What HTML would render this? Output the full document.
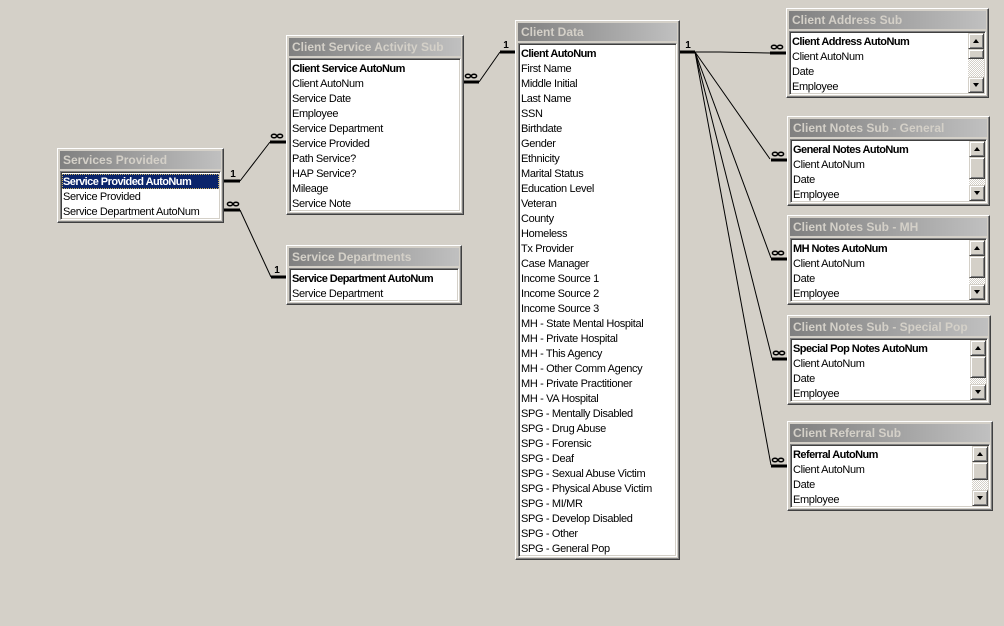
<!DOCTYPE html>
<html><head><meta charset="utf-8"><style>
*{margin:0;padding:0;box-sizing:border-box}
body{width:1004px;height:626px;background:#d4d0c8;position:relative;overflow:hidden;font-family:"Liberation Sans",Arial,sans-serif}
.w{position:absolute;background:#d4d0c8;border:1px solid;border-color:#fff #404040 #404040 #fff;box-shadow:inset -1px -1px #808080,inset 1px 1px #d4d0c8}
.t{position:absolute;left:2px;top:2px;right:2px;height:18px;background:linear-gradient(to right,#808080,#c0c0c0);color:#d4d0c8;font-weight:bold;font-size:12px;line-height:18px;padding-left:3px;white-space:nowrap;overflow:hidden}
.l{position:absolute;left:2px;right:2px;top:22px;bottom:2px;background:#fff;border:1px solid;border-color:#808080 #fff #fff #808080;box-shadow:inset 1px 1px #404040,inset -1px -1px #d4d0c8;padding:2px 1px 0 2px;font-size:11px;line-height:15px;color:#000;letter-spacing:-0.35px;white-space:nowrap;overflow:hidden}
.l div{height:15px;padding-top:1px}
.b{font-weight:bold;letter-spacing:-0.55px}
.sel{background:#0a246a;color:#fff;margin-left:-1px;padding-left:1px;outline:1px dotted #c8b060;outline-offset:-1px}
.l .sb{position:absolute;right:1px;top:1px;width:16px;height:60px;padding:0;background:repeating-conic-gradient(#fff 0 25%,#d4d0c8 0 50%) 0 0/2px 2px}
.l .btn{position:absolute;left:0;width:16px;padding:0;background:#d4d0c8;border:1px solid;border-color:#d4d0c8 #404040 #404040 #d4d0c8;box-shadow:inset 1px 1px #fff,inset -1px -1px #808080}
.up:after,.dn:after{content:"";position:absolute;left:4px;width:0;height:0;border-left:3.5px solid transparent;border-right:3.5px solid transparent}
.up:after{top:5px;border-bottom:4px solid #000}
.dn:after{top:5px;border-top:4px solid #000}
svg{position:absolute;left:0;top:0}
</style></head><body>

<svg width="1004" height="626">
<g stroke="#000" stroke-width="3" fill="none">
<line x1="224" y1="181" x2="240" y2="181"/>
<line x1="270" y1="142" x2="286" y2="142"/>
<line x1="224" y1="210" x2="240" y2="210"/>
<line x1="271" y1="277" x2="287" y2="277"/>
<line x1="464" y1="82" x2="479" y2="82"/>
<line x1="500" y1="52" x2="515" y2="52"/>
<line x1="680" y1="52" x2="695" y2="52"/>
<line x1="770" y1="53" x2="786" y2="53"/>
<line x1="771" y1="160" x2="787" y2="160"/>
<line x1="771" y1="259" x2="787" y2="259"/>
<line x1="772" y1="359" x2="787" y2="359"/>
<line x1="771" y1="466" x2="787" y2="466"/>
</g>
<g stroke="#000" stroke-width="1" fill="none">
<line x1="240" y1="181" x2="270" y2="142"/>
<line x1="240" y1="210" x2="271" y2="277"/>
<line x1="479" y1="82" x2="500" y2="52"/>
<polyline points="695,52 720,52 770,53"/>
<line x1="695" y1="52" x2="770" y2="159"/>
<line x1="695" y1="52" x2="771" y2="258"/>
<line x1="695" y1="52" x2="772" y2="358"/>
<line x1="695" y1="52" x2="771" y2="465"/>
</g>
<g font-family="Liberation Sans, Arial, sans-serif" font-size="10" font-weight="bold" fill="#000" text-anchor="middle">
<text x="233" y="177">1</text>
<text x="277" y="273">1</text>
<text x="506" y="48">1</text>
<text x="688" y="48">1</text>
</g>
<g stroke="#000" stroke-width="1.5" fill="none">
<ellipse cx="274" cy="136" rx="2.6" ry="1.8"/><ellipse cx="280" cy="136" rx="2.6" ry="1.8"/>
<ellipse cx="230" cy="204" rx="2.6" ry="1.8"/><ellipse cx="236" cy="204" rx="2.6" ry="1.8"/>
<ellipse cx="468" cy="76" rx="2.6" ry="1.8"/><ellipse cx="474" cy="76" rx="2.6" ry="1.8"/>
<ellipse cx="774" cy="47" rx="2.6" ry="1.8"/><ellipse cx="780" cy="47" rx="2.6" ry="1.8"/>
<ellipse cx="775" cy="154" rx="2.6" ry="1.8"/><ellipse cx="781" cy="154" rx="2.6" ry="1.8"/>
<ellipse cx="775" cy="253" rx="2.6" ry="1.8"/><ellipse cx="781" cy="253" rx="2.6" ry="1.8"/>
<ellipse cx="776" cy="353" rx="2.6" ry="1.8"/><ellipse cx="782" cy="353" rx="2.6" ry="1.8"/>
<ellipse cx="775" cy="460" rx="2.6" ry="1.8"/><ellipse cx="781" cy="460" rx="2.6" ry="1.8"/>
</g>
</svg>

<!-- Services Provided -->
<div class="w" style="left:57px;top:148px;width:167px;height:75px">
<div class="t">Services Provided</div>
<div class="l">
<div class="b sel">Service Provided AutoNum</div>
<div>Service Provided</div>
<div>Service Department AutoNum</div>
</div></div>

<!-- Client Service Activity Sub -->
<div class="w" style="left:286px;top:35px;width:178px;height:180px">
<div class="t">Client Service Activity Sub</div>
<div class="l">
<div class="b">Client Service AutoNum</div>
<div>Client AutoNum</div>
<div>Service Date</div>
<div>Employee</div>
<div>Service Department</div>
<div>Service Provided</div>
<div>Path Service?</div>
<div>HAP Service?</div>
<div>Mileage</div>
<div>Service Note</div>
</div></div>

<!-- Service Departments -->
<div class="w" style="left:286px;top:245px;width:176px;height:60px">
<div class="t">Service Departments</div>
<div class="l">
<div class="b">Service Department AutoNum</div>
<div>Service Department</div>
</div></div>

<!-- Client Data -->
<div class="w" style="left:515px;top:20px;width:165px;height:540px">
<div class="t">Client Data</div>
<div class="l">
<div class="b">Client AutoNum</div>
<div>First Name</div>
<div>Middle Initial</div>
<div>Last Name</div>
<div>SSN</div>
<div>Birthdate</div>
<div>Gender</div>
<div>Ethnicity</div>
<div>Marital Status</div>
<div>Education Level</div>
<div>Veteran</div>
<div>County</div>
<div>Homeless</div>
<div>Tx Provider</div>
<div>Case Manager</div>
<div>Income Source 1</div>
<div>Income Source 2</div>
<div>Income Source 3</div>
<div>MH - State Mental Hospital</div>
<div>MH - Private Hospital</div>
<div>MH - This Agency</div>
<div>MH - Other Comm Agency</div>
<div>MH - Private Practitioner</div>
<div>MH - VA Hospital</div>
<div>SPG - Mentally Disabled</div>
<div>SPG - Drug Abuse</div>
<div>SPG - Forensic</div>
<div>SPG - Deaf</div>
<div>SPG - Sexual Abuse Victim</div>
<div>SPG - Physical Abuse Victim</div>
<div>SPG - MI/MR</div>
<div>SPG - Develop Disabled</div>
<div>SPG - Other</div>
<div>SPG - General Pop</div>
</div></div>

<!-- Client Address Sub -->
<div class="w" style="left:786px;top:8px;width:203px;height:90px">
<div class="t">Client Address Sub</div>
<div class="l">
<div class="b">Client Address AutoNum</div>
<div>Client AutoNum</div>
<div>Date</div>
<div>Employee</div>
<div class="sb"><div class="btn up" style="top:0;height:16px"></div><div class="btn" style="top:16px;height:10px"></div><div class="btn dn" style="top:44px;height:16px"></div></div>
</div></div>

<!-- Client Notes Sub - General -->
<div class="w" style="left:787px;top:116px;width:203px;height:90px">
<div class="t">Client Notes Sub - General</div>
<div class="l">
<div class="b">General Notes AutoNum</div>
<div>Client AutoNum</div>
<div>Date</div>
<div>Employee</div>
<div class="sb"><div class="btn up" style="top:0;height:16px"></div><div class="btn" style="top:16px;height:22px"></div><div class="btn dn" style="top:44px;height:16px"></div></div>
</div></div>

<!-- Client Notes Sub - MH -->
<div class="w" style="left:787px;top:215px;width:203px;height:90px">
<div class="t">Client Notes Sub - MH</div>
<div class="l">
<div class="b">MH Notes AutoNum</div>
<div>Client AutoNum</div>
<div>Date</div>
<div>Employee</div>
<div class="sb"><div class="btn up" style="top:0;height:16px"></div><div class="btn" style="top:16px;height:22px"></div><div class="btn dn" style="top:44px;height:16px"></div></div>
</div></div>

<!-- Client Notes Sub - Special Pop -->
<div class="w" style="left:787px;top:315px;width:204px;height:90px">
<div class="t">Client Notes Sub - Special Pop</div>
<div class="l">
<div class="b">Special Pop Notes AutoNum</div>
<div>Client AutoNum</div>
<div>Date</div>
<div>Employee</div>
<div class="sb"><div class="btn up" style="top:0;height:16px"></div><div class="btn" style="top:16px;height:22px"></div><div class="btn dn" style="top:44px;height:16px"></div></div>
</div></div>

<!-- Client Referral Sub -->
<div class="w" style="left:787px;top:421px;width:206px;height:90px">
<div class="t">Client Referral Sub</div>
<div class="l">
<div class="b">Referral AutoNum</div>
<div>Client AutoNum</div>
<div>Date</div>
<div>Employee</div>
<div class="sb"><div class="btn up" style="top:0;height:16px"></div><div class="btn" style="top:16px;height:18px"></div><div class="btn dn" style="top:44px;height:16px"></div></div>
</div></div>

</body></html>
